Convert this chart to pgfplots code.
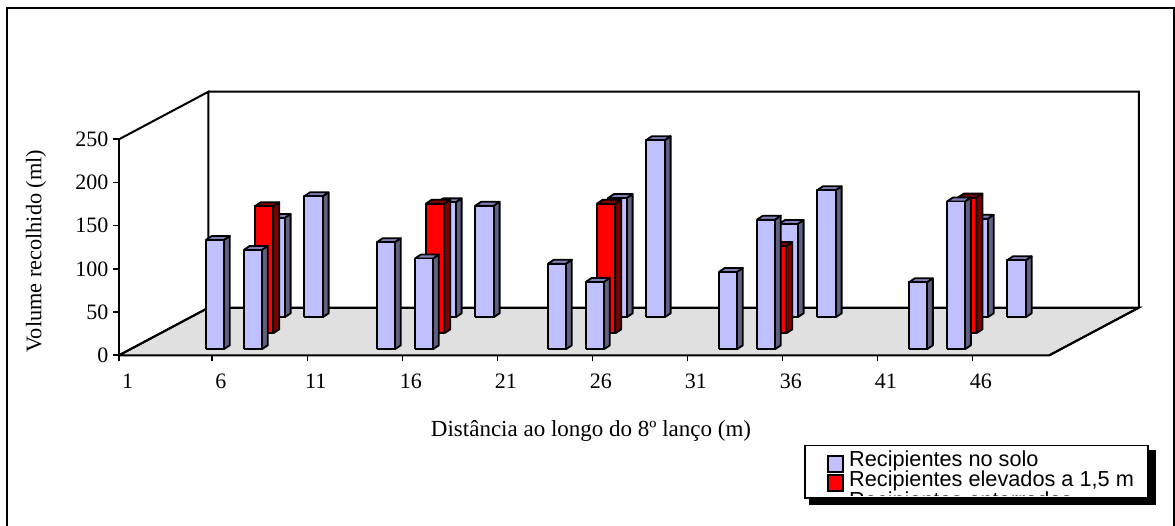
\documentclass[border=0pt]{standalone}
\usepackage{pgfplots}
\usepackage{fontspec}
\pgfplotsset{compat=1.18}
\setmainfont{Liberation Serif}
\newfontfamily\legendfont{Liberation Sans}

\definecolor{barface}{RGB}{192,192,255}
\definecolor{barside}{RGB}{96,96,128}
\definecolor{bartop}{RGB}{128,128,184}
\definecolor{redface}{RGB}{255,0,0}
\definecolor{redside}{RGB}{128,0,0}
\definecolor{floorgrey}{RGB}{224,224,224}

% Axis scale: one category is 19 units wide, 250 ml is 216 units tall.
\newcommand{\xpx}{19}
\newcommand{\ypx}{0.864}

% One prism: #1 category, #2 volume, #3 row's floor shift right, #4 row's floor
% shift up, #5 face, #6 side, #7 top, #8 half width of the face.
\newcommand{\prism}[8]{%
  \pgfmathsetmacro{\xa}{#1+0.5+(#3-#8)/\xpx}%
  \pgfmathsetmacro{\xb}{#1+0.5+(#3+#8)/\xpx}%
  \pgfmathsetmacro{\xc}{#1+0.5+(#3+#8+6)/\xpx}%
  \pgfmathsetmacro{\xd}{#1+0.5+(#3-#8+6)/\xpx}%
  \pgfmathsetmacro{\ya}{#4/\ypx}%
  \pgfmathsetmacro{\yb}{#2+#4/\ypx}%
  \pgfmathsetmacro{\yc}{#2+(#4+4)/\ypx}%
  \pgfmathsetmacro{\yd}{(#4+4)/\ypx}%
  \edef\prismplots{%
    \noexpand\addplot[draw=black,fill=#6,line width=1.8pt,line join=round]
      coordinates {(\xb,\ya)(\xb,\yb)(\xc,\yc)(\xc,\yd)(\xb,\ya)};
    \noexpand\addplot[draw=black,fill=#7,line width=1.8pt,line join=round]
      coordinates {(\xa,\yb)(\xd,\yc)(\xc,\yc)(\xb,\yb)(\xa,\yb)};
    \noexpand\addplot[draw=black,fill=#5,line width=1.8pt,line join=round]
      coordinates {(\xa,\ya)(\xa,\yb)(\xb,\yb)(\xb,\ya)(\xa,\ya)};
  }%
  \prismplots
}
\newcommand{\backbar}[2]{\prism{#1}{#2}{72.5}{38}{barface}{barside}{bartop}{9.3}}
\newcommand{\midbar}[2]{\prism{#1}{#2}{42.2}{22}{redface}{redside}{redside}{9.3}}
\newcommand{\frontbar}[2]{\prism{#1}{#2}{12}{6}{barface}{barside}{bartop}{9}}

\begin{document}
\begin{tikzpicture}[x=1pt,y=1pt]
  \path[use as bounding box] (0,0) rectangle (1175,526);
  % Chart area border, open towards the page foot
  \draw[line width=2pt] (7,-5) -- (7,518) -- (1174,518) -- (1174,-5);

  \begin{axis}[
    at={(119pt,170.7pt)}, anchor=origin,
    scale only axis, width=930.3pt, height=216pt,
    xmin=1.09, xmax=50.05, ymin=0, ymax=250,
    clip=false,
    axis x line=bottom, axis y line=left,
    axis line style={line width=2pt,-},
    tick style={line width=1.6pt,black},
    x axis line style={-}, y axis line style={-},
    xtick={1.09,6,11,16,21,26,31,36,41,46},
    xticklabels={1,6,11,16,21,26,31,36,41,46},
    ytick={0,50,100,150,200,250},
    tick align=outside,
    major tick length=6pt,
    xticklabel style={xshift=8.5pt,yshift=-9pt,font=\fontsize{22}{24}\selectfont},
    yticklabel style={xshift=-1pt,font=\fontsize{22}{24}\selectfont},
    /pgf/number format/assume math mode=true,
  ]
    % Floor and back walls, set back by 89.5 units to the right and 47.6 units up
    \addplot[draw=black,fill=floorgrey,line width=2pt] coordinates
      {(1.09,0)(5.80,55.09)(54.76,55.09)(50.05,0)(1.09,0)};
    \addplot[draw=black,line width=2pt] coordinates
      {(1.09,0)(5.80,55.09)(5.80,305.09)(1.09,250)};
    \addplot[draw=black,line width=2pt] coordinates
      {(5.80,305.09)(54.76,305.09)(54.76,55.09)(50.05,0)};
    \addplot[draw=black,line width=2pt] coordinates
      {(5.80,55.09)(54.76,55.09)};
    % Back row
    \backbar{5}{115}\backbar{7}{140}\backbar{14}{133}\backbar{16}{129}
    \backbar{23}{138}\backbar{25}{205}\backbar{32}{108}\backbar{34}{147}
    \backbar{42}{114}\backbar{44}{66}
    % Raised containers
    \midbar{6}{147}\midbar{15}{150}\midbar{24}{150}\midbar{33}{101}\midbar{43}{157}
    % Containers on the ground
    \frontbar{5}{126.5}\frontbar{7}{115}\frontbar{14}{124}\frontbar{16}{105}
    \frontbar{23}{99}\frontbar{25}{78}\frontbar{32}{89.5}\frontbar{34}{150}
    \frontbar{42}{77.5}\frontbar{44}{171}
  \end{axis}

  \node[rotate=90,font=\fontsize{22.3}{24}\selectfont] at (36,275) {Volume recolhido (ml)};
  \node[font=\fontsize{23}{25}\selectfont] at (591,95) {Distância ao longo do 8º lanço (m)};

  % Legend box with its drop shadow; the third entry is cut off by the box
  \fill[black] (809,21) rectangle (1156,76);
  \fill[white] (805,28) rectangle (1148,80.5);
  \begin{scope}
    \clip (805,30) rectangle (1148,80.5);
    \node[anchor=base west,inner sep=0pt,font=\legendfont\fontsize{21.7}{24}\selectfont] at (849,18) {Recipientes enterrados};
  \end{scope}
  \draw[line width=1.6pt] (805,28) rectangle (1148,80.5);
  \draw[line width=1.6pt,fill=barface] (828,54) rectangle (843,70);
  \draw[line width=1.6pt,fill=redface] (828,35) rectangle (843,51);
  \node[anchor=base west,inner sep=0pt,font=\legendfont\fontsize{21.7}{24}\selectfont] at (849,59.3) {Recipientes no solo};
  \node[anchor=base west,inner sep=0pt,font=\legendfont\fontsize{21.7}{24}\selectfont] at (849,39.3) {Recipientes elevados a 1,5 m};
\end{tikzpicture}
\end{document}
